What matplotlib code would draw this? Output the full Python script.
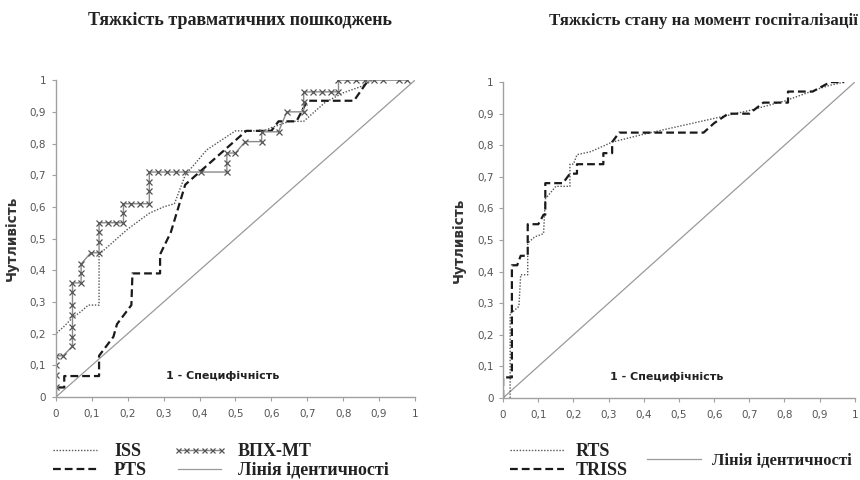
import matplotlib
matplotlib.use("Agg")
import matplotlib.pyplot as plt
from matplotlib.lines import Line2D
from matplotlib.ticker import FuncFormatter

# ---------------- data ----------------
titles = ["Тяжкість травматичних пошкоджень", "Тяжкість стану на момент госпіталізації"]
ylabel = "Чутливість"
xlabel = "1 - Специфічність"
ticks = [0, 0.1, 0.2, 0.3, 0.4, 0.5, 0.6, 0.7, 0.8, 0.9, 1.0]

iss_x = [0, 0, 0.02, 0.046, 0.07, 0.09, 0.12, 0.12, 0.16, 0.2, 0.26, 0.3, 0.33, 0.36, 0.42, 0.5,
         0.58, 0.6, 0.65, 0.69, 0.75, 0.8, 0.85, 0.88]
iss_y = [0, 0.2, 0.22, 0.25, 0.27, 0.29, 0.29, 0.45, 0.49, 0.53, 0.58, 0.6, 0.61, 0.7, 0.78, 0.84,
         0.84, 0.85, 0.87, 0.87, 0.93, 0.96, 0.98, 1.0]

pts_x = [0, 0, 0.023, 0.023, 0.12, 0.12, 0.16, 0.17, 0.21, 0.213, 0.29, 0.29, 0.32, 0.36, 0.4,
         0.46, 0.5, 0.53, 0.6, 0.62, 0.67, 0.7, 0.83, 0.87, 0.88]
pts_y = [0, 0.03, 0.03, 0.066, 0.066, 0.13, 0.19, 0.23, 0.29, 0.39, 0.39, 0.45, 0.52, 0.67, 0.71,
         0.77, 0.81, 0.84, 0.84, 0.87, 0.87, 0.935, 0.935, 1.0, 1.0]

vpx_x = [0, 0, 0, 0, 0.02, 0.046, 0.046, 0.046, 0.046, 0.046, 0.046, 0.046, 0.07, 0.07, 0.07,
         0.097, 0.12, 0.12, 0.12, 0.12, 0.146, 0.167, 0.188, 0.188, 0.188, 0.21, 0.235, 0.26,
         0.26, 0.26, 0.26, 0.285, 0.31, 0.335, 0.36, 0.405, 0.476, 0.476, 0.476, 0.5, 0.527,
         0.573, 0.573, 0.62, 0.643, 0.69, 0.69, 0.69, 0.715, 0.74, 0.765, 0.787, 0.787, 0.81,
         0.835, 0.86, 0.885, 0.91, 0.955, 0.977]
vpx_y = [0.03, 0.07, 0.1, 0.13, 0.13, 0.16, 0.19, 0.22, 0.26, 0.29, 0.33, 0.36, 0.36, 0.39, 0.42,
         0.455, 0.455, 0.49, 0.52, 0.55, 0.55, 0.55, 0.55, 0.58, 0.61, 0.61, 0.61, 0.61,
         0.65, 0.68, 0.71, 0.71, 0.71, 0.71, 0.71, 0.71, 0.71, 0.74, 0.77, 0.77, 0.806,
         0.806, 0.837, 0.837, 0.9, 0.9, 0.93, 0.963, 0.963, 0.963, 0.963, 0.963, 1.0, 1.0,
         1.0, 1.0, 1.0, 1.0, 1.0, 1.0]

triss_x = [0, 0, 0.025, 0.025, 0.04, 0.05, 0.07, 0.07, 0.1, 0.115, 0.12, 0.12, 0.17, 0.19, 0.21,
           0.21, 0.285, 0.285, 0.31, 0.31, 0.33, 0.57, 0.6, 0.64, 0.7, 0.74, 0.81, 0.81, 0.88,
           0.93, 0.97]
triss_y = [0, 0.065, 0.065, 0.42, 0.42, 0.45, 0.45, 0.55, 0.55, 0.58, 0.58, 0.68, 0.68, 0.71, 0.71,
           0.74, 0.74, 0.775, 0.775, 0.81, 0.84, 0.84, 0.87, 0.9, 0.9, 0.935, 0.935, 0.97, 0.97,
           1.0, 1.0]

rts_x = [0.02, 0.02, 0.025, 0.045, 0.05, 0.07, 0.07, 0.09, 0.115, 0.12, 0.15, 0.19, 0.19, 0.2,
         0.21, 0.25, 0.31, 0.4, 0.5, 0.6, 0.7, 0.8, 0.9, 0.93, 0.97]
rts_y = [0, 0.27, 0.27, 0.29, 0.39, 0.39, 0.49, 0.51, 0.52, 0.63, 0.67, 0.67, 0.74, 0.74,
         0.77, 0.78, 0.81, 0.835, 0.86, 0.885, 0.91, 0.94, 0.98, 0.99, 1.0]

ident = [0, 1]

# ---------------- figure ----------------
fig = plt.figure(figsize=(8.6, 4.8), dpi=100)
tickc = "#555555"
serif = ["Liberation Serif", "DejaVu Serif"]

fmt = FuncFormatter(lambda v, p: ("%g" % round(v, 1)).replace(".", ","))

ax1 = fig.add_axes([0.0651, 0.173, 0.4174, 0.660])
ax2 = fig.add_axes([0.585, 0.171, 0.409, 0.658])

for ax in (ax1, ax2):
    ax.set_xlim(0, 1)
    ax.set_ylim(0, 1)
    ax.set_xticks(ticks)
    ax.set_yticks(ticks)
    ax.xaxis.set_major_formatter(fmt)
    ax.yaxis.set_major_formatter(fmt)
    for s in ("top", "right"):
        ax.spines[s].set_visible(False)
    for s in ("left", "bottom"):
        ax.spines[s].set_color("#a0a0a0")
        ax.spines[s].set_linewidth(1.0)
    ax.tick_params(axis="both", colors="#a0a0a0", labelcolor=tickc, labelsize=7.5,
                   length=3, width=0.8, direction="out")
    ax.tick_params(axis="x", pad=6)
    ax.tick_params(axis="y", pad=4)
    ax.plot(ident, ident, color="#9a9a9a", lw=0.9, solid_capstyle="butt")
    ax.text(0.465, 0.065, xlabel, ha="center", va="center", fontsize=8,
            fontweight="bold", color="#222222")
    ax.set_ylabel(ylabel, fontsize=9.8, fontweight="bold", color="#333333", labelpad=8)
    ax.patch.set_alpha(0)

# Left panel
l_iss, = ax1.plot(iss_x, iss_y, color="#555555", lw=1.0, ls=(0, (1, 1.2)))
l_pts, = ax1.plot(pts_x, pts_y, color="#1a1a1a", lw=1.6, ls=(0, (3.5, 1.8)))
l_vpx, = ax1.plot(vpx_x, vpx_y, color="#8a8a8a", lw=1.0, marker="x", ms=4.5,
                  mec="#555555", mew=0.9)
l_id1 = Line2D([], [], color="#9a9a9a", lw=0.9)

# Right panel
r_rts, = ax2.plot(rts_x, rts_y, color="#555555", lw=1.0, ls=(0, (1, 1.2)))
r_tri, = ax2.plot(triss_x, triss_y, color="#1a1a1a", lw=1.6, ls=(0, (3.5, 1.8)))
r_id = Line2D([], [], color="#9a9a9a", lw=0.9)

# Titles
fig.text(0.2785, 0.957, titles[0], ha="center", va="center", fontsize=13,
         fontweight="bold", family=serif, color="#222222")
fig.text(0.997, 0.957, titles[1], ha="right", va="center", fontsize=12.2,
         fontweight="bold", family=serif, color="#222222")

lp = dict(frameon=False, handletextpad=0.65, labelspacing=0.1, borderaxespad=0,
          borderpad=0)
prop13 = {"family": serif, "weight": "bold", "size": 13}
prop12 = {"family": serif, "weight": "bold", "size": 12}
leg1 = fig.legend([l_iss, l_pts, l_vpx, l_id1], ["ISS", "PTS", "ВПХ-МТ", "Лінія ідентичності"],
                  ncol=2, loc="center left", bbox_to_anchor=(0.0558, 0.0396),
                  columnspacing=1.4, numpoints=6, markerscale=0.8, prop=prop13,
                  handlelength=3.0, **lp)
leg2 = fig.legend([r_rts, r_tri], ["RTS", "TRISS"], loc="center left",
                  bbox_to_anchor=(0.593, 0.0396), prop=prop13, handlelength=3.0, **lp)
leg3 = fig.legend([r_id], ["Лінія ідентичності"], loc="center left",
                  bbox_to_anchor=(0.752, 0.0396), prop=prop12, handlelength=3.25, **lp)
for lg in (leg1, leg2, leg3):
    for t in lg.get_texts():
        t.set_color("#222222")

fig.savefig("out.png", dpi=100, facecolor="white")
